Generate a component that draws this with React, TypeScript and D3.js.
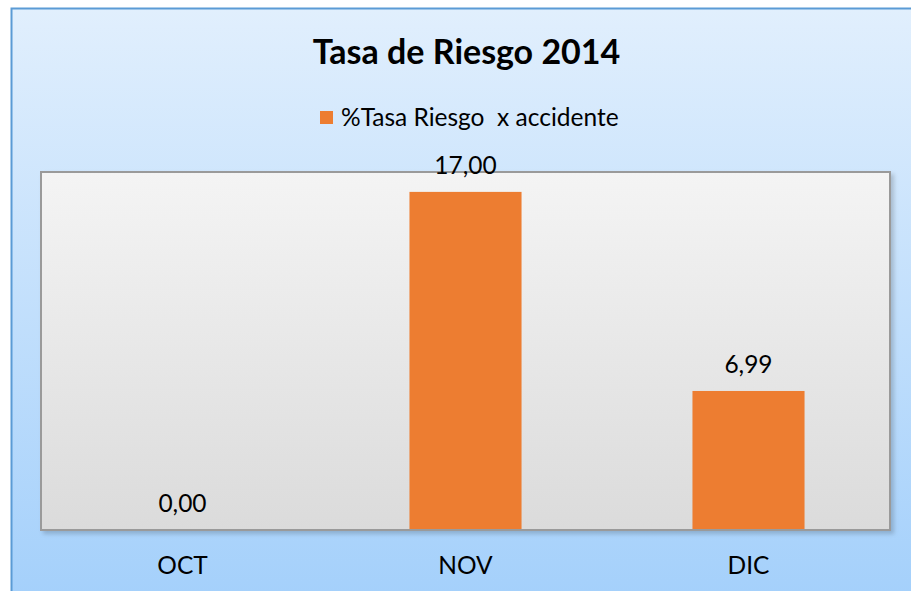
import React from "react";
import * as d3 from "d3";

const categories = ["OCT", "NOV", "DIC"];
const values = [0, 17, 6.99];
const seriesName = "%Tasa Riesgo  x accidente";
const title = "Tasa de Riesgo 2014";

const W = 911;
const H = 591;
const plot = { left: 41, top: 172, right: 890, bottom: 530 };

export default function App() {
  const x = d3
    .scaleBand<string>()
    .domain(categories)
    .range([plot.left, plot.right])
    .paddingInner(0.604)
    .paddingOuter(0.302);
  const y = d3.scaleLinear().domain([0, 18]).range([plot.bottom, plot.top]);
  const fmt = (v: number) => d3.format(".2f")(v).replace(".", ",");
  const font = "Lato, 'Open Sans', sans-serif";

  return (
    <svg
      width={W}
      height={H}
      style={{ position: "absolute", left: 0, top: 0, display: "block" }}
      fontFamily={font}
    >
      <defs>
        <linearGradient id="bg" x1="0" y1="0" x2="0" y2="1">
          <stop offset="0" stopColor="#e1effd" />
          <stop offset="1" stopColor="#a2cffb" />
        </linearGradient>
        <linearGradient id="pa" x1="0" y1="0" x2="0" y2="1">
          <stop offset="0" stopColor="#f4f4f4" />
          <stop offset="1" stopColor="#dbdbdb" />
        </linearGradient>
        <filter id="sh" x="-5%" y="-5%" width="110%" height="115%">
          <feDropShadow dx="3" dy="3" stdDeviation="2" floodColor="#000" floodOpacity="0.18" />
        </filter>
      </defs>
      <rect x={0} y={0} width={W} height={H} fill="#ffffff" />
      <rect x={11.5} y={8.5} width={W + 20} height={H + 20} fill="url(#bg)" stroke="#5b9bd5" strokeWidth={2} />
      <rect
        x={plot.left}
        y={plot.top}
        width={plot.right - plot.left}
        height={plot.bottom - plot.top}
        fill="url(#pa)"
        stroke="#9a9a9a"
        strokeWidth={2}
        filter="url(#sh)"
      />
      {categories.map((c, i) => (
        <rect
          key={c}
          x={x(c)!}
          y={y(values[i])}
          width={x.bandwidth()}
          height={plot.bottom - y(values[i])}
          fill="#ed7d31"
        />
      ))}
      <line x1={plot.left} x2={plot.right} y1={plot.bottom} y2={plot.bottom} stroke="#9a9a9a" strokeWidth={2} />
      {categories.map((c, i) => (
        <text
          key={"v" + c}
          x={x(c)! + x.bandwidth() / 2}
          y={y(values[i]) - 18}
          textAnchor="middle"
          fontSize={24.5}
          fill="#000"
        >
          {fmt(values[i])}
        </text>
      ))}
      {categories.map((c) => (
        <text
          key={"l" + c}
          x={x(c)! + x.bandwidth() / 2}
          y={574}
          textAnchor="middle"
          fontSize={24.5}
          fill="#000"
        >
          {c}
        </text>
      ))}
      <text x={466.5} y={64} textAnchor="middle" fontSize={34} fontWeight="bold" fill="#000">
        {title}
      </text>
      <rect x={320} y={111} width={13} height={13} fill="#ed7d31" />
      <text x={341} y={126} fontSize={24.5} fill="#000" style={{ whiteSpace: "pre" }}>
        {seriesName}
      </text>
    </svg>
  );
}
